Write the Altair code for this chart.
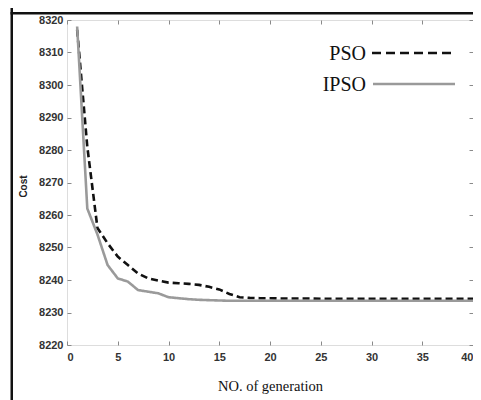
import altair as alt
import pandas as pd

generations = list(range(1, 41))
pso = [8317, 8281, 8256, 8251.3, 8247.2, 8244.6, 8242, 8240.5, 8239.8, 8239.2,
       8239, 8238.8, 8238.5, 8237.9, 8237.1, 8235.7, 8234.7, 8234.5, 8234.4, 8234.4,
       8234.3, 8234.3, 8234.3, 8234.3, 8234.2, 8234.2, 8234.2, 8234.2, 8234.2, 8234.2,
       8234.2, 8234.2, 8234.2, 8234.2, 8234.2, 8234.2, 8234.2, 8234.2, 8234.2, 8234.2]
ipso = [8318, 8262, 8254, 8244.6, 8240.5, 8239.5, 8236.9, 8236.4, 8235.9, 8234.7,
        8234.4, 8234.1, 8233.9, 8233.8, 8233.7, 8233.6, 8233.6, 8233.6, 8233.6, 8233.6,
        8233.6, 8233.6, 8233.6, 8233.6, 8233.6, 8233.6, 8233.6, 8233.6, 8233.6, 8233.6,
        8233.6, 8233.6, 8233.6, 8233.6, 8233.6, 8233.6, 8233.6, 8233.6, 8233.6, 8233.6]
series = ["PSO", "IPSO"]
colors = ["#111111", "#9a9a9a"]
dashes = [[7, 4], [1, 0]]
x_ticks = [0, 5, 10, 15, 20, 25, 30, 35, 40]
y_ticks = [8220, 8230, 8240, 8250, 8260, 8270, 8280, 8290, 8300, 8310, 8320]

df = pd.DataFrame({
    "gen": generations * 2,
    "cost": pso + ipso,
    "series": ["PSO"] * len(pso) + ["IPSO"] * len(ipso),
})

W, H = 406, 325
xs = alt.Scale(domain=[0, 40], nice=False)
ys = alt.Scale(domain=[8220, 8320], nice=False, zero=False)

common_axis = dict(domain=False, grid=False, tickColor="#8a8a8a", tickSize=4,
                   offset=-4, labelFont="Liberation Sans", labelFontWeight="bold",
                   labelFontSize=11, labelColor="#333333", format="d")

lines = alt.Chart(df).mark_line(strokeWidth=2.6).encode(
    x=alt.X("gen:Q", scale=xs, axis=alt.Axis(values=x_ticks, title="NO. of generation",
            labelPadding=6, titleFont="Liberation Serif", titleFontSize=14.5,
            titleFontWeight="normal", titleColor="#111111", titleY=38, **common_axis)),
    y=alt.Y("cost:Q", scale=ys, axis=alt.Axis(values=y_ticks, title="Cost",
            labelPadding=4, titleFont="Liberation Sans", titleFontSize=10,
            titleFontWeight="bold", titleColor="#222222", titleX=-43, titleY=166,
            **common_axis)),
    color=alt.Color("series:N", scale=alt.Scale(domain=series, range=colors), legend=None),
    strokeDash=alt.StrokeDash("series:N", scale=alt.Scale(domain=series, range=dashes), legend=None),
    order=alt.Order("gen:Q"),
)

mirror = alt.Chart(df).mark_line(opacity=0).encode(
    x=alt.X("gen:Q", scale=xs, axis=alt.Axis(orient="top", values=x_ticks, labels=False,
            title=None, domain=False, grid=False, tickColor="#8a8a8a", tickSize=4, offset=-4)),
    y=alt.Y("cost:Q", scale=ys, axis=alt.Axis(orient="right", values=y_ticks, labels=False,
            title=None, domain=False, grid=False, tickColor="#8a8a8a", tickSize=4, offset=-4)),
)

leg = pd.DataFrame({"series": series, "row": [0, 1]})
leg_text = alt.Chart(leg).mark_text(align="right", baseline="middle", font="Liberation Serif",
                                    fontSize=20, color="#111111").encode(
    text="series:N",
    x=alt.value(299),
    y=alt.Y("row:Q", scale=alt.Scale(domain=[0, 1], range=[34, 65]), axis=None),
)
leg_pso = alt.Chart(leg.iloc[:1]).mark_rule(strokeWidth=2.6, color="#111111", strokeDash=[9, 5]).encode(
    x=alt.value(305), x2=alt.value(388), y=alt.value(33))
leg_ipso = alt.Chart(leg.iloc[1:]).mark_rule(strokeWidth=2.6, color="#9a9a9a").encode(
    x=alt.value(306), x2=alt.value(388), y=alt.value(64))

frame = pd.DataFrame({"k": [0]})
frame_left = alt.Chart(frame).mark_rect(color="#111111").encode(
    x=alt.value(-56.5), x2=alt.value(-54), y=alt.value(-12), y2=alt.value(380))
frame_top = alt.Chart(frame).mark_rect(color="#111111").encode(
    x=alt.value(-56.5), x2=alt.value(420), y=alt.value(-8), y2=alt.value(-5.5))

chart = alt.layer(lines, mirror, leg_text, leg_pso, leg_ipso, frame_left, frame_top).resolve_axis(
    x="independent", y="independent").resolve_scale(y="independent", x="independent").properties(
    width=W, height=H, autosize=alt.AutoSizeParams(type="none"),
    padding={"left": 59, "top": 12, "right": 0, "bottom": 55},
).configure_view(stroke="#8a8a8a", strokeWidth=1.2).configure(background="white")

chart.save("out.html", embed_options={"renderer": "svg", "actions": False})
